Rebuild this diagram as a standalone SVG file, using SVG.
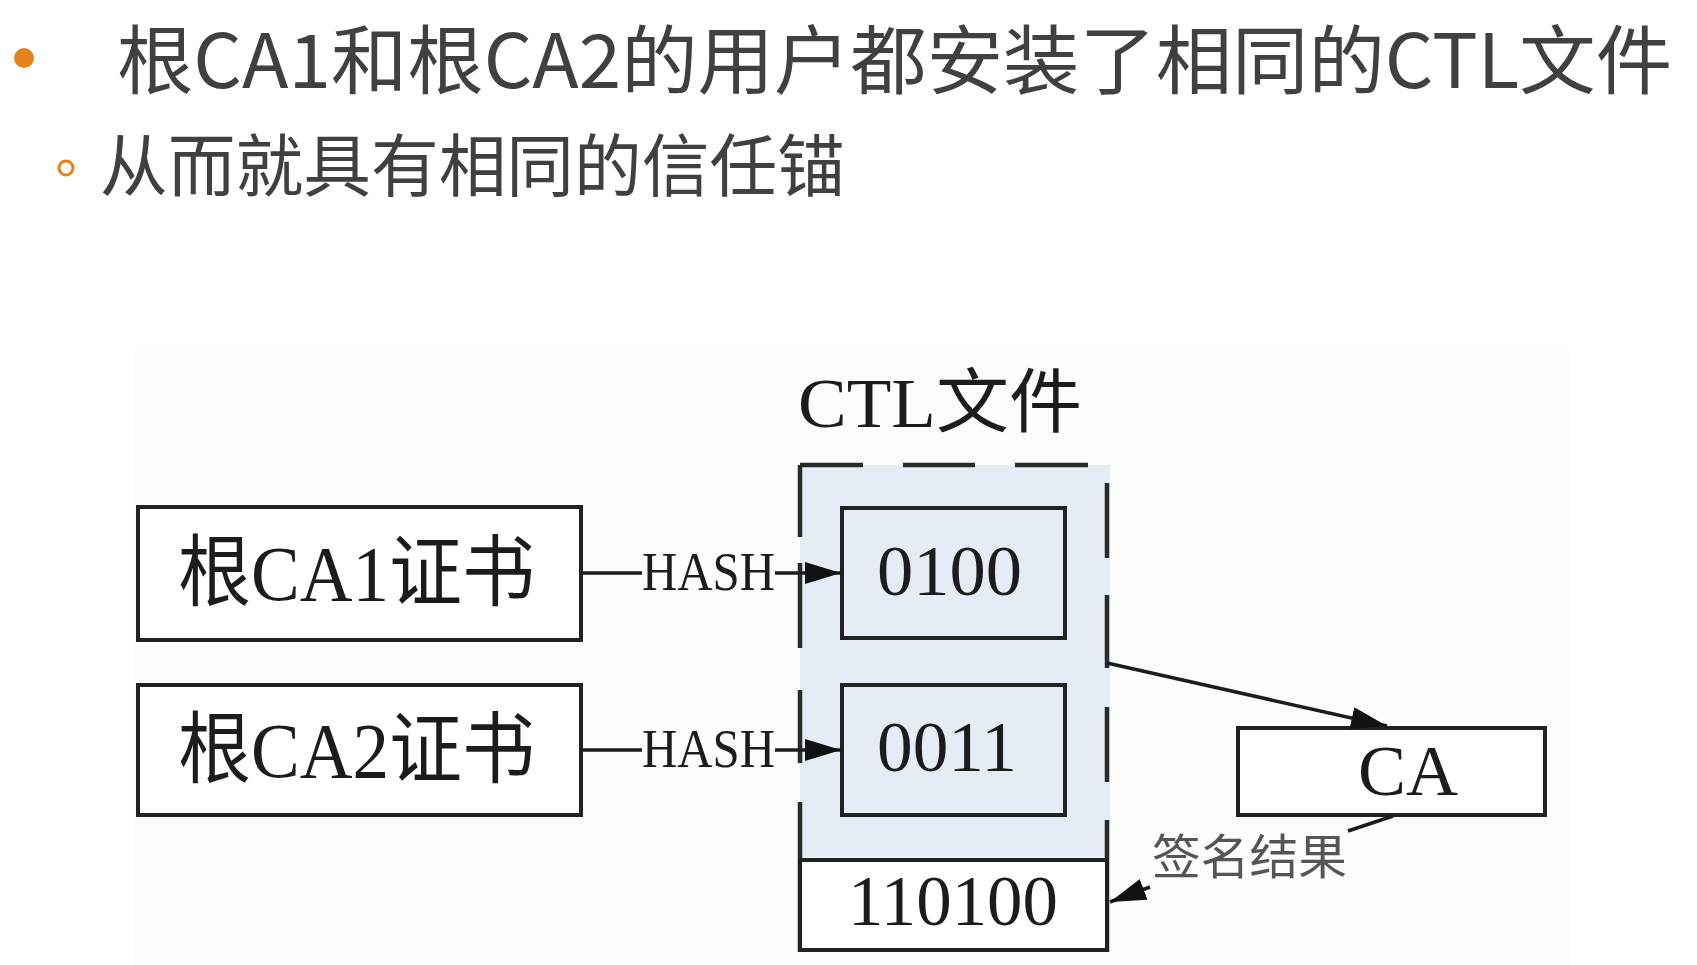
<svg xmlns="http://www.w3.org/2000/svg" width="1697" height="965" viewBox="0 0 1697 965">
<style>
.title{font-family:"Noto Sans CJK SC","Noto Sans",sans-serif;fill:#404040}
.box{fill:#ffffff;stroke:#222222;stroke-width:4}
.inner{fill:#e5ecf6;stroke:#222222;stroke-width:4}
.lbl{font-family:"Liberation Serif","Noto Sans CJK SC",serif;fill:#1c1c1c}
.conn{stroke:#1c1c1c;stroke-width:3.5;fill:none}
.dash{stroke:#2a2a2a;stroke-width:4.5;fill:none}
</style>
<defs>
<marker id="arr" viewBox="0 0 36 22" refX="36" refY="11" markerWidth="36" markerHeight="22" orient="auto" markerUnits="userSpaceOnUse">
<path d="M0,0 L36,11 L0,22 Z" fill="#111111"/>
</marker>
</defs>
<rect x="0" y="0" width="1697" height="965" fill="#ffffff"/>
<rect x="134" y="350" width="1436" height="615" fill="#fcfcfc"/>

<g id="heading">
<circle cx="24" cy="58" r="10" fill="#e4831a"/>
<text class="title" x="117" y="88" font-size="75" textLength="1555" lengthAdjust="spacingAndGlyphs">根CA1和根CA2的用户都安装了相同的CTL文件</text>
<circle cx="66" cy="168" r="7" fill="none" stroke="#e4831a" stroke-width="3"/>
<text class="title" x="100" y="191" font-size="68" textLength="745" lengthAdjust="spacingAndGlyphs">从而就具有相同的信任锚</text>
</g>

<g id="ctl">
<rect x="800" y="465" width="310" height="392" fill="#e5ecf6"/>
<path class="dash" d="M800,465 H863 M903,465 H975 M1015,465 H1088 M1107,483 V558 M1107,595 V668 M1107,707 V782 M1107,820 V952 M800,465 V537 M800,563 V648 M800,690 V763 M800,802 V952"/>
<text class="lbl" x="798" y="427" font-size="70" textLength="284" lengthAdjust="spacingAndGlyphs">CTL文件</text>
</g>

<g id="sig">
<path d="M800,860 H1107 V950 H800 Z" fill="#ffffff" stroke="#222222" stroke-width="4"/>
<text class="lbl" x="848" y="925" font-size="72" textLength="210" lengthAdjust="spacingAndGlyphs">110100</text>
</g>

<g id="hash1">
<rect class="inner" x="842" y="508" width="223" height="130"/>
<text class="lbl" x="877" y="595" font-size="72" textLength="145" lengthAdjust="spacingAndGlyphs">0100</text>
</g>

<g id="hash2">
<rect class="inner" x="842" y="685" width="223" height="130"/>
<text class="lbl" x="877" y="771" font-size="72" textLength="140" lengthAdjust="spacingAndGlyphs">0011</text>
</g>

<g id="cert1">
<rect class="box" x="138" y="507" width="443" height="133"/>
<text class="lbl" x="178" y="600" font-size="78" textLength="357" lengthAdjust="spacingAndGlyphs">根CA1证书</text>
</g>

<g id="cert2">
<rect class="box" x="138" y="685" width="443" height="130"/>
<text class="lbl" x="178" y="777" font-size="78" textLength="357" lengthAdjust="spacingAndGlyphs">根CA2证书</text>
</g>

<g id="ca">
<rect class="box" x="1238" y="728" width="307" height="87"/>
<text class="lbl" x="1358" y="795" font-size="72" textLength="100" lengthAdjust="spacingAndGlyphs">CA</text>
</g>

<g id="connectors">
<line class="conn" x1="581" y1="573" x2="642" y2="573"/>
<text class="lbl" x="642" y="590" font-size="54" fill="#333333" textLength="133" lengthAdjust="spacingAndGlyphs">HASH</text>
<line class="conn" x1="775" y1="573" x2="841" y2="573" marker-end="url(#arr)"/>
<line class="conn" x1="581" y1="750" x2="642" y2="750"/>
<text class="lbl" x="642" y="767" font-size="54" fill="#333333" textLength="133" lengthAdjust="spacingAndGlyphs">HASH</text>
<line class="conn" x1="775" y1="750" x2="841" y2="750" marker-end="url(#arr)"/>
<line class="conn" x1="1107" y1="663" x2="1387" y2="726" marker-end="url(#arr)"/>
<line class="conn" x1="1393" y1="816" x2="1348" y2="831"/>
<text x="1152" y="874" font-size="48" fill="#555555" font-family="&quot;Liberation Serif&quot;,&quot;Noto Sans CJK SC&quot;,serif" textLength="195" lengthAdjust="spacingAndGlyphs">签名结果</text>
<line class="conn" x1="1150" y1="887" x2="1110" y2="902" marker-end="url(#arr)"/>
</g>
</svg>
